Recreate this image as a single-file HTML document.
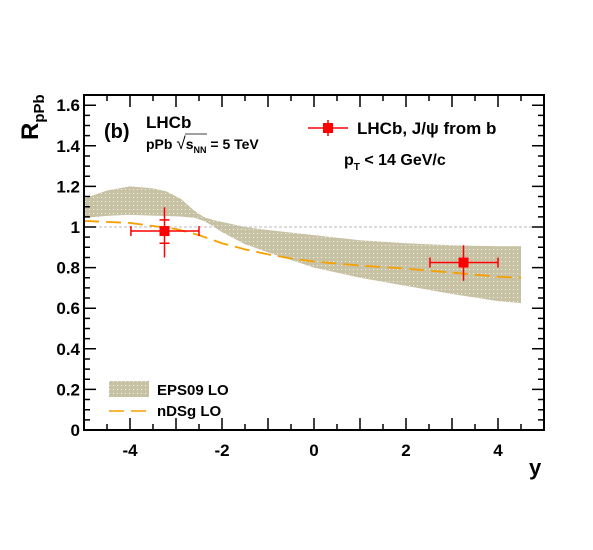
<!DOCTYPE html>
<html><head><meta charset="utf-8"><style>
body{margin:0;background:#fff}
svg{display:block;font-family:"Liberation Sans",sans-serif;font-weight:bold}
</style></head><body>
<svg id="chart" width="593" height="550" viewBox="0 0 593 550">
<defs>
<pattern id="dots" width="4" height="4" patternUnits="userSpaceOnUse">
<rect width="4" height="4" fill="#c8c2a4"/><rect x="1" y="1" width="1" height="1" fill="#f4f2ea"/>
</pattern>
</defs>
<g id="band"></g>
<g id="ref"></g>
<g id="line"></g>
<g id="pts"></g>
<g id="axes"></g>
<text x="104" y="138" font-size="20">(b)</text>
<text x="146" y="128" font-size="17">LHCb</text>
<text x="146" y="149" font-size="14">pPb <tspan font-weight="normal" font-size="17">√</tspan><tspan>s</tspan><tspan font-size="9" dy="4">NN</tspan><tspan dy="-4"> = 5 TeV</tspan></text>
<line x1="185" y1="134" x2="207" y2="134" stroke="#000" stroke-width="0.8"/>
<g>
<line x1="308" y1="128" x2="348" y2="128" stroke="red" stroke-width="1.5"/>
<line x1="328" y1="120" x2="328" y2="136" stroke="red" stroke-width="1.5"/>
<rect x="323" y="123" width="10" height="10" fill="red"/>
<text x="357" y="134" font-size="17">LHCb, J/ψ from b</text>
</g>
<text x="344" y="165" font-size="16">p<tspan font-size="10" dy="5">T</tspan><tspan dy="-5"> &lt; 14 GeV/c</tspan></text>
<g>
<rect x="109" y="381" width="40" height="16" fill="url(#dots)"/>
<text x="157" y="395" font-size="15">EPS09 LO</text>
</g>
<g>
<line x1="109" y1="411" x2="149" y2="411" stroke="#f5a000" stroke-width="1.5" stroke-dasharray="15,7"/>
<text x="157" y="416" font-size="15">nDSg LO</text>
</g>
<text x="529" y="475" font-size="22">y</text>
<g transform="translate(38,140) rotate(-90)">
<text x="0" y="0" font-size="24">R<tspan font-size="15" dy="6">pPb</tspan></text>
</g>
</svg>
<script>
const bandX=[-5,-4.5,-4,-3.5,-3.2,-2.9,-2.6,-2.4,-2.2,-2,-1.5,-1,0,1,2,3,4,4.5];
const bandHi=[1.14,1.18,1.2,1.19,1.175,1.14,1.08,1.05,1.035,1.025,1.0,0.985,0.96,0.935,0.92,0.91,0.905,0.905];
const bandLo=[1.045,1.055,1.06,1.056,1.054,1.052,1.045,1.03,1.005,0.975,0.915,0.875,0.8,0.75,0.71,0.67,0.635,0.625];
const curveX=[-5,-4,-3.5,-3,-2.5,-2,-1.5,-1,-0.5,0,1,2,3,4,4.5];
const curveY=[1.03,1.02,1.005,0.99,0.96,0.92,0.89,0.865,0.845,0.83,0.81,0.795,0.775,0.755,0.75];
const ptX=[-3.25,3.25];
const ptY=[0.98,0.825];
const ptXLo=[-3.98,2.52];
const ptXHi=[-2.5,4.0];
const ptYLo=[0.85,0.735];
const ptYHi=[1.097,0.91];
const ptStatLo=[0.92,null];
const ptStatHi=[1.035,null];
const xTicks=[-4,-2,0,2,4];
const yTicks=[0,0.2,0.4,0.6,0.8,1,1.2,1.4,1.6];
const yTickLabels=["0","0.2","0.4","0.6","0.8","1","1.2","1.4","1.6"];

const L=84,R=544,T=95,B=430;
const sx=v=>L+(v+5)*(R-L)/10;
const sy=v=>B-v*203;
const NS="http://www.w3.org/2000/svg";
function mk(p,tag,a){const e=document.createElementNS(NS,tag);for(const k in a)e.setAttribute(k,a[k]);p.appendChild(e);return e;}

const band=document.getElementById('band');
let d="M"+bandX.map((x,i)=>sx(x)+","+sy(bandHi[i])).join("L");
for(let i=bandX.length-1;i>=0;i--)d+="L"+sx(bandX[i])+","+sy(bandLo[i]);
const bp=mk(band,'path',{d:d+"Z",fill:"url(#dots)"});



const rl=mk(document.getElementById('ref'),'line',{x1:L,x2:R,y1:sy(1),y2:sy(1),stroke:"#bbb","stroke-width":1,"stroke-dasharray":"3,2"});



const cp=mk(document.getElementById('line'),'path',{d:"M"+curveX.map((x,i)=>sx(x)+","+sy(curveY[i])).join("L"),fill:"none",stroke:"#f5a000","stroke-width":1.8,"stroke-dasharray":"15,7"});



const pts=document.getElementById('pts');
ptX.forEach((x,i)=>{
  const g=mk(pts,'g',{stroke:"red","stroke-width":1.5});
  
  
  const cy=sy(ptY[i]);
  mk(g,'line',{x1:sx(ptXLo[i]),x2:sx(ptXHi[i]),y1:cy,y2:cy});
  mk(g,'line',{x1:sx(ptXLo[i]),x2:sx(ptXLo[i]),y1:cy-5,y2:cy+5});
  mk(g,'line',{x1:sx(ptXHi[i]),x2:sx(ptXHi[i]),y1:cy-5,y2:cy+5});
  mk(g,'line',{x1:sx(x),x2:sx(x),y1:sy(ptYHi[i]),y2:sy(ptYLo[i])});
  if(ptStatLo[i]!==null){
    mk(g,'line',{x1:sx(x)-5,x2:sx(x)+5,y1:sy(ptStatLo[i]),y2:sy(ptStatLo[i])});
    mk(g,'line',{x1:sx(x)-5,x2:sx(x)+5,y1:sy(ptStatHi[i]),y2:sy(ptStatHi[i])});
  }
  mk(g,'rect',{x:sx(x)-5,y:cy-5,width:10,height:10,fill:"red",stroke:"none"});
});

const ax=document.getElementById('axes');
const fr=mk(ax,'rect',{x:L,y:T,width:R-L,height:B-T,fill:"none",stroke:"#000","stroke-width":2});


let td="";
for(let v=-5;v<=5.001;v+=0.5){const x=sx(v);const len=Math.abs(v-Math.round(v))<0.01?12:6;td+=`M${x},${B}v${-len}M${x},${T}v${len}`;}
for(let v=0;v<=1.64;v+=0.05){const y=sy(v);const len=Math.abs(v/0.2-Math.round(v/0.2))<0.01?12:6;td+=`M${L},${y}h${len}M${R},${y}h${-len}`;}
mk(ax,'path',{d:td,stroke:"#000","stroke-width":1.5,fill:"none"});
xTicks.forEach(v=>{const t=mk(ax,'text',{x:sx(v),y:456,"font-size":17,"text-anchor":"middle"});t.textContent=String(v);
});
yTicks.forEach((v,i)=>{const t=mk(ax,'text',{x:80,y:sy(v)+6,"font-size":17,"text-anchor":"end"});t.textContent=yTickLabels[i];
});
</script>
</body></html>
